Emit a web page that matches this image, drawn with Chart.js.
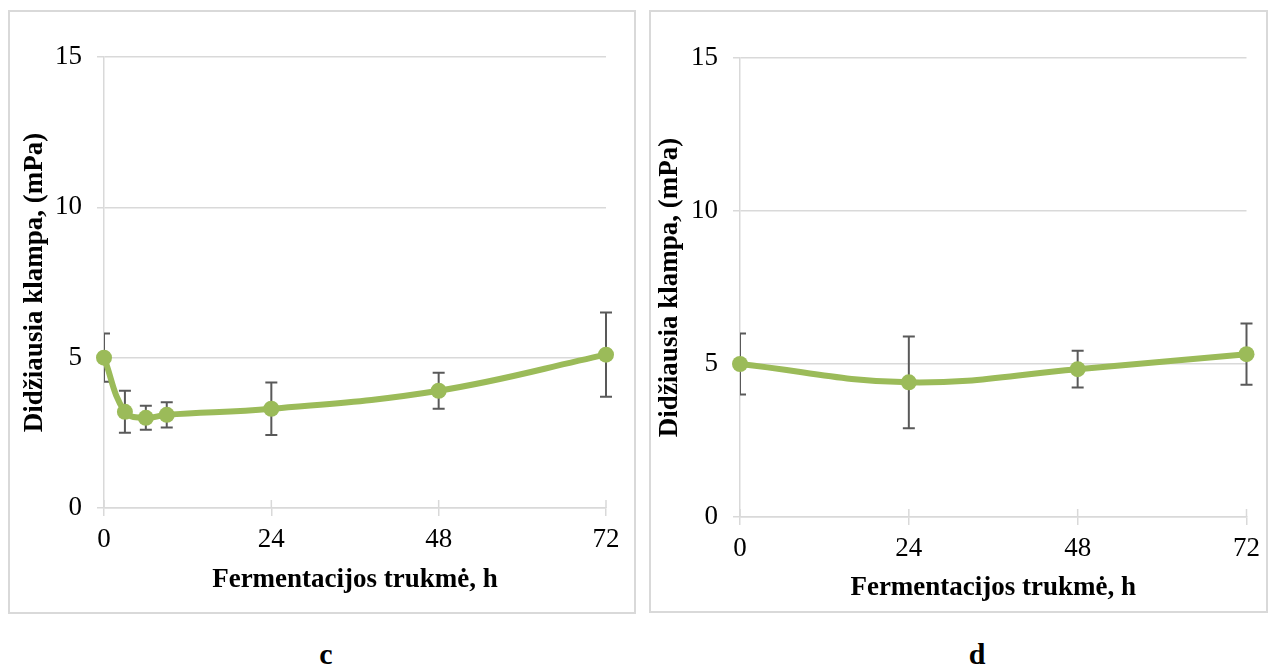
<!DOCTYPE html>
<html>
<head>
<meta charset="utf-8">
<script src="https://cdn.jsdelivr.net/npm/chart.js@4"></script>
<style>
  body { margin: 0; background: #fff; width: 1269px; height: 668px; position: relative; overflow: hidden; font-family: "Liberation Serif", serif; }
  .box { position: absolute; border: 2px solid #d9d9d9; box-sizing: border-box; }
  .box canvas { position: absolute; left: -2px; top: -2px; }
  .lbl { position: absolute; font-weight: bold; font-size: 30px; transform: translateX(-50%); }
</style>
</head>
<body>
<div class="box" id="boxC" style="left:8px; top:10px; width:628px; height:604px;"><canvas id="chartC" width="628" height="604"></canvas></div>
<div class="box" id="boxD" style="left:649px; top:10px; width:619px; height:603px;"><canvas id="chartD" width="619" height="603"></canvas></div>
<div class="lbl" style="left:326px; top:637px;">c</div>
<div class="lbl" style="left:977px; top:637px;">d</div>
<script>
// duomenys
const hoursC = [0, 3, 6, 9, 24, 48, 72];
const valuesC = [5.0, 3.2, 3.0, 3.1, 3.3, 3.9, 5.1];
const errorsC = [0.8, 0.7, 0.4, 0.42, 0.87, 0.6, 1.4];

const hoursD = [0, 24, 48, 72];
const valuesD = [5.0, 4.4, 4.83, 5.32];
const errorsD = [1.0, 1.5, 0.6, 1.0];

const xTicks = [0, 24, 48, 72];
const yTicks = [0, 5, 10, 15];

const xTitle = "Fermentacijos trukmė, h";
const yTitle = "Didžiausia klampa, (mPa)";

const green = "#9bbb59";
const gridGray = "#d9d9d9";

/* error bars + inner tick marks */
const errorBars = {
    id: "errorBars",
    beforeDatasetsDraw(chart, args, opts) {
        const ctx = chart.ctx;
        const xs = chart.scales.x, ys = chart.scales.y;
        const area = chart.chartArea;
        // x tick marks crossing the axis
        ctx.save();
        ctx.strokeStyle = gridGray;
        ctx.lineWidth = 1.5;
        xTicks.forEach(v => {
            const px = xs.getPixelForValue(v);
            ctx.beginPath();
            ctx.moveTo(px, area.bottom - 8);
            ctx.lineTo(px, area.bottom);
            ctx.stroke();
        });
        ctx.restore();

        ctx.save();
        ctx.beginPath();
        ctx.rect(area.left, area.top - 20, area.right - area.left + 20, area.bottom - area.top + 40);
        ctx.clip();
        ctx.strokeStyle = "#595959";
        ctx.lineWidth = 2;
        opts.x.forEach((h, i) => {
            const px = xs.getPixelForValue(h);
            const top = ys.getPixelForValue(opts.y[i] + opts.err[i]);
            const bot = ys.getPixelForValue(opts.y[i] - opts.err[i]);
            ctx.beginPath();
            ctx.moveTo(px, top); ctx.lineTo(px, bot);
            ctx.moveTo(px - 6, top); ctx.lineTo(px + 6, top);
            ctx.moveTo(px - 6, bot); ctx.lineTo(px + 6, bot);
            ctx.stroke();
        });
        ctx.restore();
    }
};

function makeChart(id, hours, values, errors, dims) {
    const ctx = document.getElementById(id).getContext("2d");
    return new Chart(ctx, {
        type: "line",
        data: {
            datasets: [{
                data: hours.map((h, i) => ({ x: h, y: values[i] })),
                borderColor: green,
                backgroundColor: green,
                borderWidth: 6,
                pointRadius: 8,
                pointBackgroundColor: green,
                pointBorderWidth: 0,
                tension: 0.4,
                clip: false
            }]
        },
        options: {
            responsive: false,
            animation: false,
            layout: { padding: { top: dims.top, right: dims.right, left: 0, bottom: 0 } },
            plugins: {
                legend: { display: false },
                tooltip: { enabled: false },
                errorBars: { x: hours, y: values, err: errors }
            },
            scales: {
                x: {
                    type: "linear",
                    min: 0, max: 72,
                    afterBuildTicks: s => { s.ticks = xTicks.map(v => ({ value: v })); },
                    afterFit: s => { s.height = dims.bottom; },
                    grid: { display: true, drawOnChartArea: false, color: gridGray, lineWidth: 1.5, tickLength: 8 },
                    border: { display: true, color: gridGray, width: 1.5 },
                    ticks: { color: "#000", font: { family: "Liberation Serif", size: 27 }, padding: dims.xPad, maxRotation: 0 },
                    title: { display: true, text: xTitle, color: "#000",
                             font: { family: "Liberation Serif", size: 27, weight: "bold" },
                             padding: { bottom: dims.xTitlePad } }
                },
                y: {
                    min: 0, max: 15,
                    afterBuildTicks: s => { s.ticks = yTicks.map(v => ({ value: v })); },
                    afterFit: s => { s.width = dims.left; },
                    grid: { color: gridGray, lineWidth: 1.5, tickLength: 7 },
                    border: { display: true, color: gridGray, width: 1.5 },
                    ticks: { color: "#000", font: { family: "Liberation Serif", size: 27 }, padding: 15 },
                    title: { display: true, text: yTitle, color: "#000",
                             font: { family: "Liberation Serif", size: 27, weight: "bold" },
                             padding: { top: dims.yTitlePad } }
                }
            }
        },
        plugins: [errorBars]
    });
}

makeChart("chartC", hoursC, valuesC, errorsC, { top: 47, right: 30, bottom: 106, left: 96, xPad: 8, xTitlePad: 18, yTitlePad: 11 });
makeChart("chartD", hoursD, valuesD, errorsD, { top: 48, right: 20, bottom: 96, left: 91, xPad: 8, xTitlePad: 9, yTitlePad: 5 });
</script>
</body>
</html>
